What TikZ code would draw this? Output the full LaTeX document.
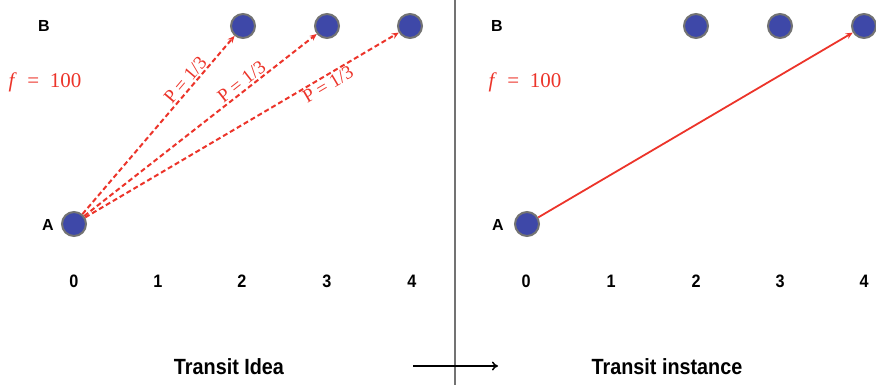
\documentclass[tikz,border=0pt]{standalone}
\usepackage{fontspec}
\setsansfont{Liberation Sans}
\newfontfamily\narrowfont[FakeStretch=0.9]{Liberation Sans}
\newfontfamily\redserif{Liberation Serif}
\usetikzlibrary{arrows.meta}
\definecolor{nodeblue}{RGB}{62,72,168}
\definecolor{nodegray}{RGB}{115,115,115}
\definecolor{lred}{RGB}{236,52,42}
\tikzset{
  stop/.style={circle,minimum size=24pt,inner sep=0pt,fill=nodeblue,draw=nodegray,line width=2pt},
  rowlabel/.style={font=\sffamily\bfseries\fontsize{16}{16}\selectfont},
  tick/.style={font=\narrowfont\bfseries\fontsize{18}{18}\selectfont},
  caption/.style={font=\narrowfont\bfseries\fontsize{22}{22}\selectfont},
  freq/.style={text=lred,font=\redserif\fontsize{21}{21}\selectfont},
  prob/.style={text=lred,font=\redserif\fontsize{19}{19}\selectfont,sloped,inner sep=1.5pt},
  dasharrow/.style={draw=lred,line width=2pt,dash pattern=on 5pt off 3pt,-{Stealth[length=7pt,width=6pt]}},
  solidarrow/.style={draw=lred,line width=1.8pt,-{Stealth[length=7pt,width=6pt]}},
}
\begin{document}
\begin{tikzpicture}[x=1pt,y=-1pt]
\useasboundingbox (0,0) rectangle (876,388);
% left panel
\node[rowlabel] (lB) at (44,26) {B};
\node[rowlabel] (lAl) at (48,225) {A};
\node[freq] (lf) at (45,82) {\textit{f}\enspace=\enspace100};
\node[stop] (lA) at (74,224) {};
\node[stop] (l2) at (243,26) {};
\node[stop] (l3) at (327,26) {};
\node[stop] (l4) at (410,26) {};
\foreach \i/\x in {0/74,1/158,2/242,3/327,4/412}
  \node[tick] (lt\i) at (\x,281) {\i};
\draw[dasharrow] (lA) -- node[prob,above,pos=0.72] {P = 1/3} (l2);
\draw[dasharrow] (lA) -- node[prob,above,pos=0.70] {P = 1/3} (l3);
\draw[dasharrow] (lA) -- node[prob,below,pos=0.76] {P = 1/3} (l4);
% divider
\coordinate (dtop) at (455,0);
\coordinate (dbot) at (455,385);
\draw[nodegray,line width=1.3pt] (dtop) -- (dbot);
% right panel
\node[rowlabel] (rB) at (497,26) {B};
\node[rowlabel] (rAl) at (498,225) {A};
\node[freq] (rf) at (525,82) {\textit{f}\enspace=\enspace100};
\node[stop] (rA) at (527,224) {};
\node[stop] (r2) at (696,26) {};
\node[stop] (r3) at (780,26) {};
\node[stop] (r4) at (864,26) {};
\foreach \i/\x in {0/526,1/611,2/696,3/780,4/864}
  \node[tick] (rt\i) at (\x,281) {\i};
\draw[solidarrow] (rA) -- (r4);
% captions
\node[caption] (c1) at (229,367) {Transit Idea};
\node[caption] (c2) at (667,367) {Transit instance};
\coordinate (as) at (413,366);
\coordinate (ae) at (498,366);
\draw[line width=2.2pt,-{To[length=6pt,width=9pt,line width=1.5pt]}] (as) -- (ae);
\end{tikzpicture}
\end{document}
